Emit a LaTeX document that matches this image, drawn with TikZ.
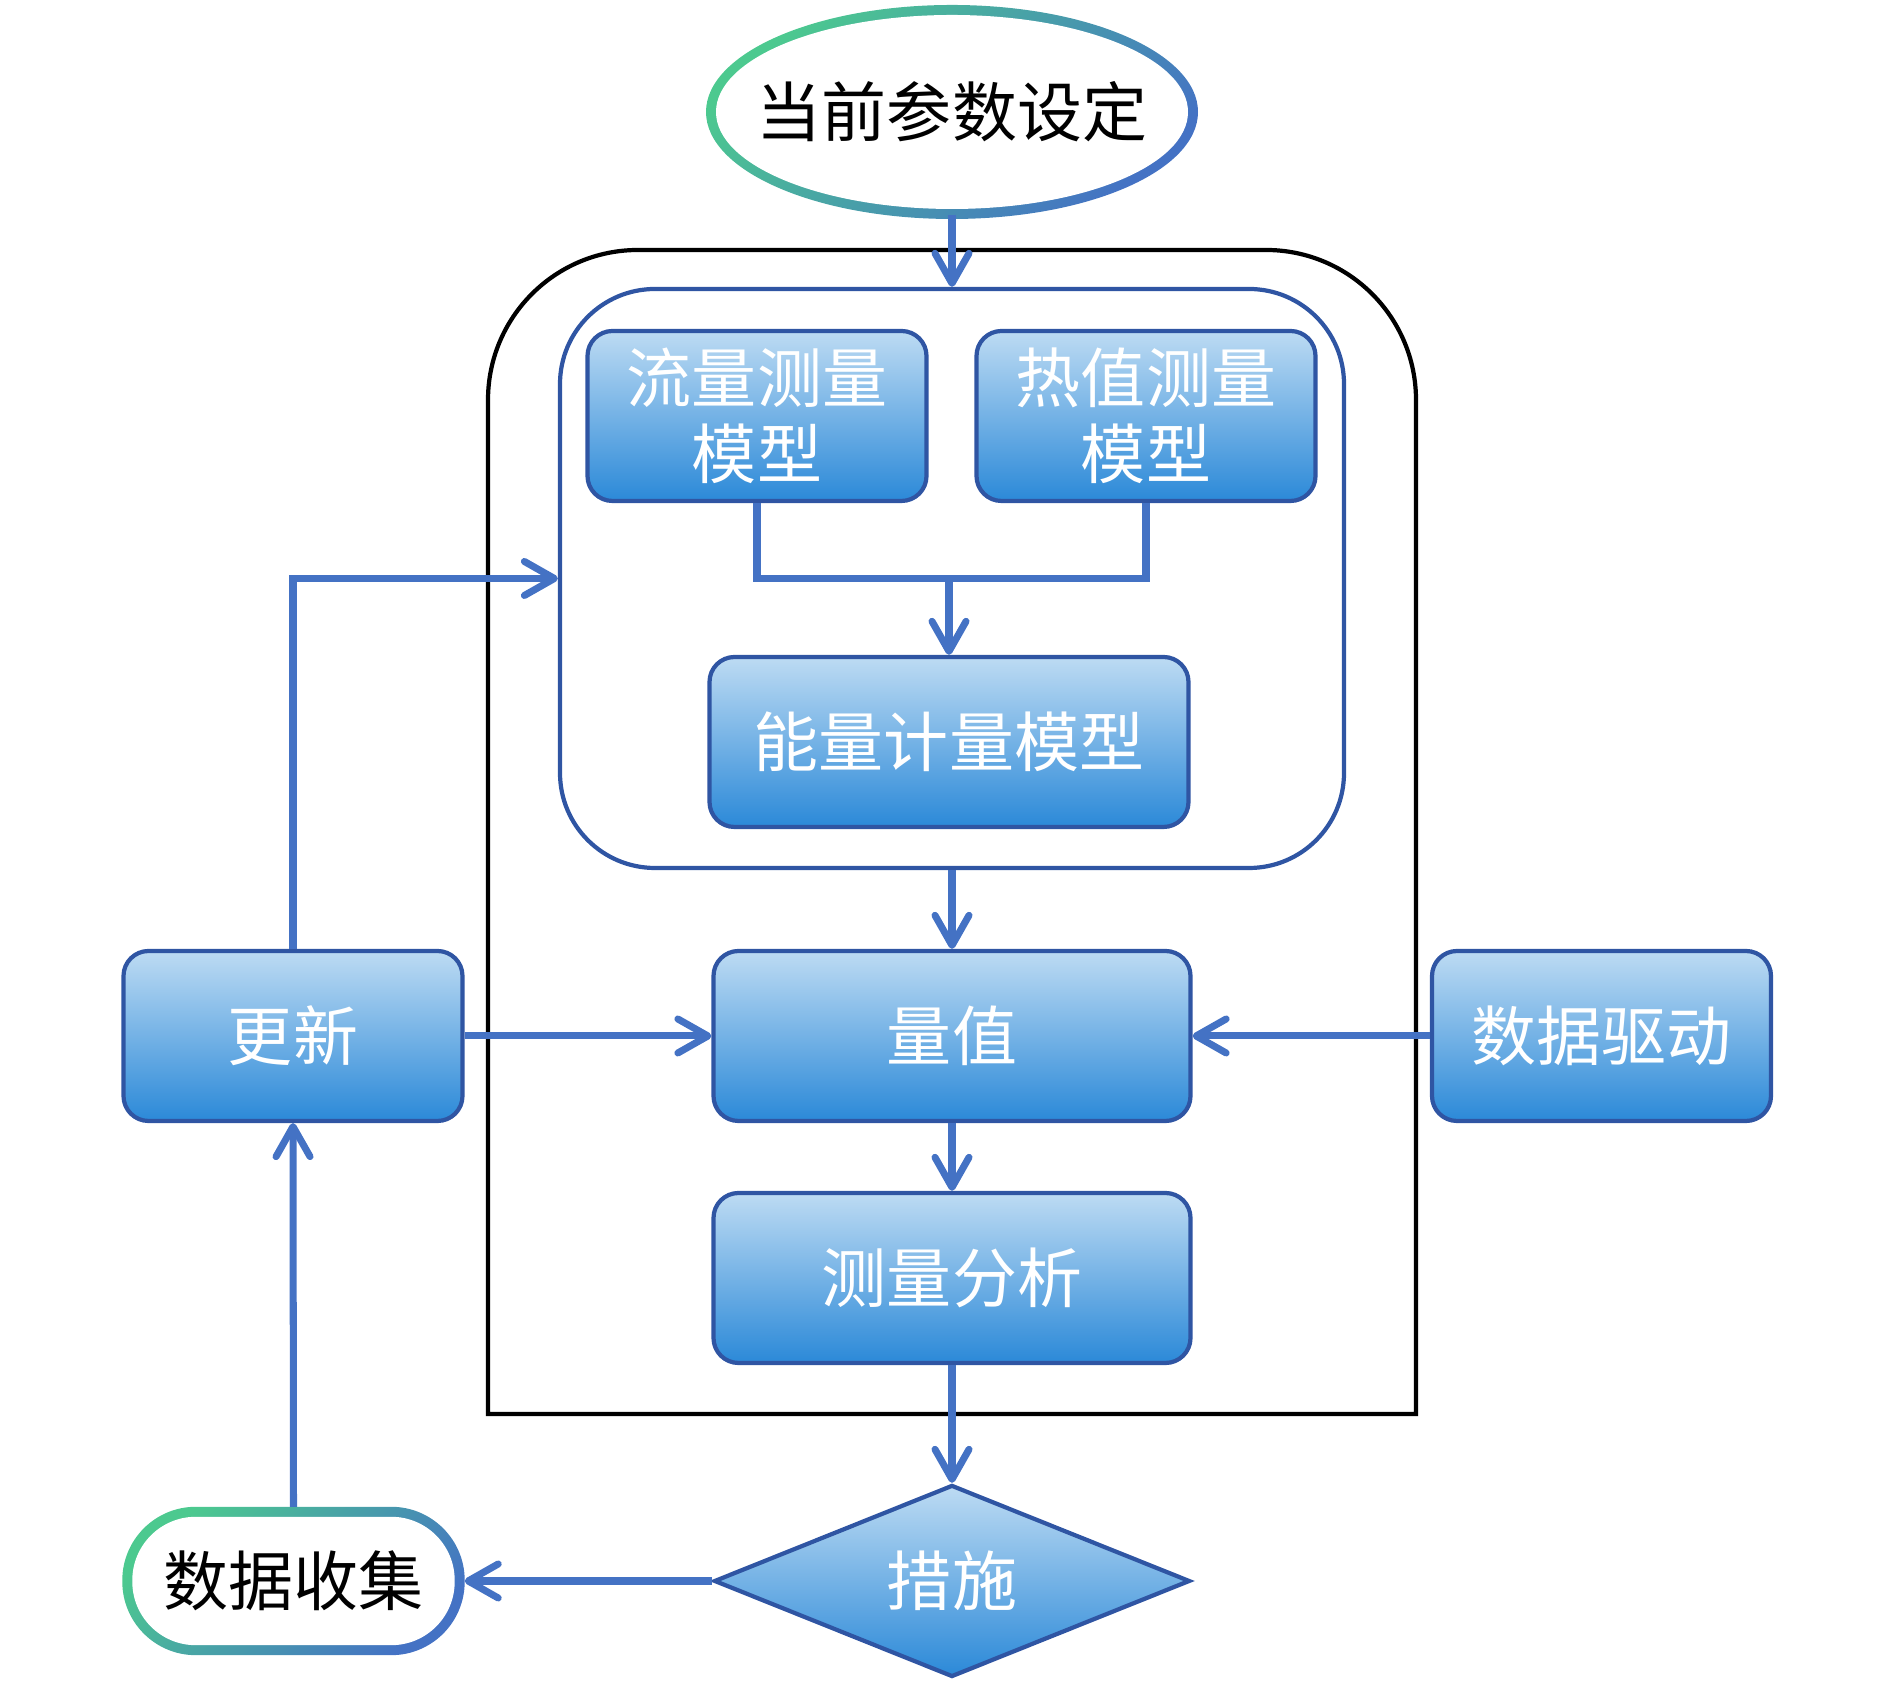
\documentclass[tikz,border=0pt]{standalone}
\usepackage{fontspec}
\newfontfamily\cjk{Noto Sans CJK SC}
\usetikzlibrary{arrows.meta,positioning,shapes.geometric,backgrounds}
\definecolor{flowline}{HTML}{4472C4}
\definecolor{boxedge}{HTML}{2F55A3}
\definecolor{boxtop}{HTML}{BDDBF3}
\definecolor{boxbot}{HTML}{2B89D8}
\definecolor{ringgreen}{HTML}{4CC98F}
\definecolor{ringblue}{HTML}{4472C4}

\begin{document}
\begin{tikzpicture}[
  every node/.style={font=\cjk\fontsize{18.5}{21.5}\selectfont, align=center},
  modelbox/.style={draw=boxedge, line width=1.2pt, rounded corners=0.25cm,
    top color=boxtop, bottom color=boxbot, text=white,
    minimum width=3.39cm, minimum height=1.70cm, inner sep=0pt},
  flowarrow/.style={draw=flowline, line width=2pt,
    -{Straight Barb[length=3mm, width=3.4mm, round]}},
  flowlink/.style={draw=flowline, line width=2pt},
  ringshade/.style={top color=ringgreen, bottom color=ringblue, shading angle=45},
]

  \useasboundingbox (0,0) rectangle (18.9,16.89);

  % ---- Outer frame (top corners rounded) ----
  \draw[black, line width=1.2pt]
    (4.88,2.75) -- (4.88,12.89) arc[start angle=180, end angle=90, radius=1.5]
    -- (12.66,14.39) arc[start angle=90, end angle=0, radius=1.5]
    -- (14.16,2.75) -- cycle;

  % ---- Start ----
  \node[ellipse, minimum width=4.82cm, minimum height=2.04cm, inner sep=0pt]
    (param) at (9.52,15.77) {当前参数设定};

  % ---- Model group ----
  \node[draw=boxedge, line width=1.2pt, rounded corners=0.95cm,
    minimum width=7.84cm, minimum height=5.79cm] (models) at (9.52,11.105) {};

  \node[modelbox] (flow) at (7.57,12.73) {流量测量\\模型};
  \node[modelbox] (heat) at (11.46,12.73) {热值测量\\模型};
  \node[modelbox, minimum width=4.79cm] (energy) at (9.49,9.47) {能量计量模型};
  \coordinate (merge) at (9.49,11.10);

  % ---- Main chain ----
  \node[modelbox, minimum width=4.77cm] (value) at (9.52,6.53) {量值};
  \node[modelbox, minimum width=4.77cm] (analysis) at (9.52,4.11) {测量分析};
  \node[diamond, draw=boxedge, line width=1.2pt, top color=boxtop, bottom color=boxbot,
    text=white, minimum width=4.76cm, minimum height=1.92cm, inner sep=0pt]
    (measure) at (9.52,1.08) {措施};

  % ---- Side boxes ----
  \node[modelbox] (update) at (2.93,6.53) {更新};
  \node[modelbox] (drive) at (16.015,6.53) {数据驱动};
  \node[minimum width=3.41cm, minimum height=1.47cm, inner sep=0pt]
    (collect) at (2.935,1.08) {数据收集};

  % ---- Gradient rings ----
  \begin{scope}[on background layer]
    \shade[ringshade] (param.center) ellipse [x radius=2.46cm, y radius=1.07cm];
    \fill[white] (param.center) ellipse [x radius=2.36cm, y radius=0.97cm];
    \shade[ringshade, rounded corners=0.735cm]
      (collect.south west) rectangle (collect.north east);
    \fill[white, rounded corners=0.635cm]
      ([shift={(0.1,0.1)}]collect.south west) rectangle ([shift={(-0.1,-0.1)}]collect.north east);
  \end{scope}

  % ---- Connectors ----
  \draw[flowarrow] (param.south) -- (models.north);
  \draw[flowlink] (flow.south) |- (merge) -| (heat.south);
  \draw[flowarrow] (merge) -- (energy.north);
  \draw[flowarrow] (models.south) -- (value.north);
  \draw[flowarrow] (value.south) -- (analysis.north);
  \draw[flowarrow] (analysis.south) -- (measure.north);
  \draw[flowarrow] (measure.west) -- (collect.east);
  \draw[flowarrow] (collect.north) -- (update.south);
  \draw[flowarrow] (update.north) |- (models.west);
  \draw[flowarrow] (update.east) -- (value.west);
  \draw[flowarrow] (drive.west) -- (value.east);

\end{tikzpicture}
\end{document}
